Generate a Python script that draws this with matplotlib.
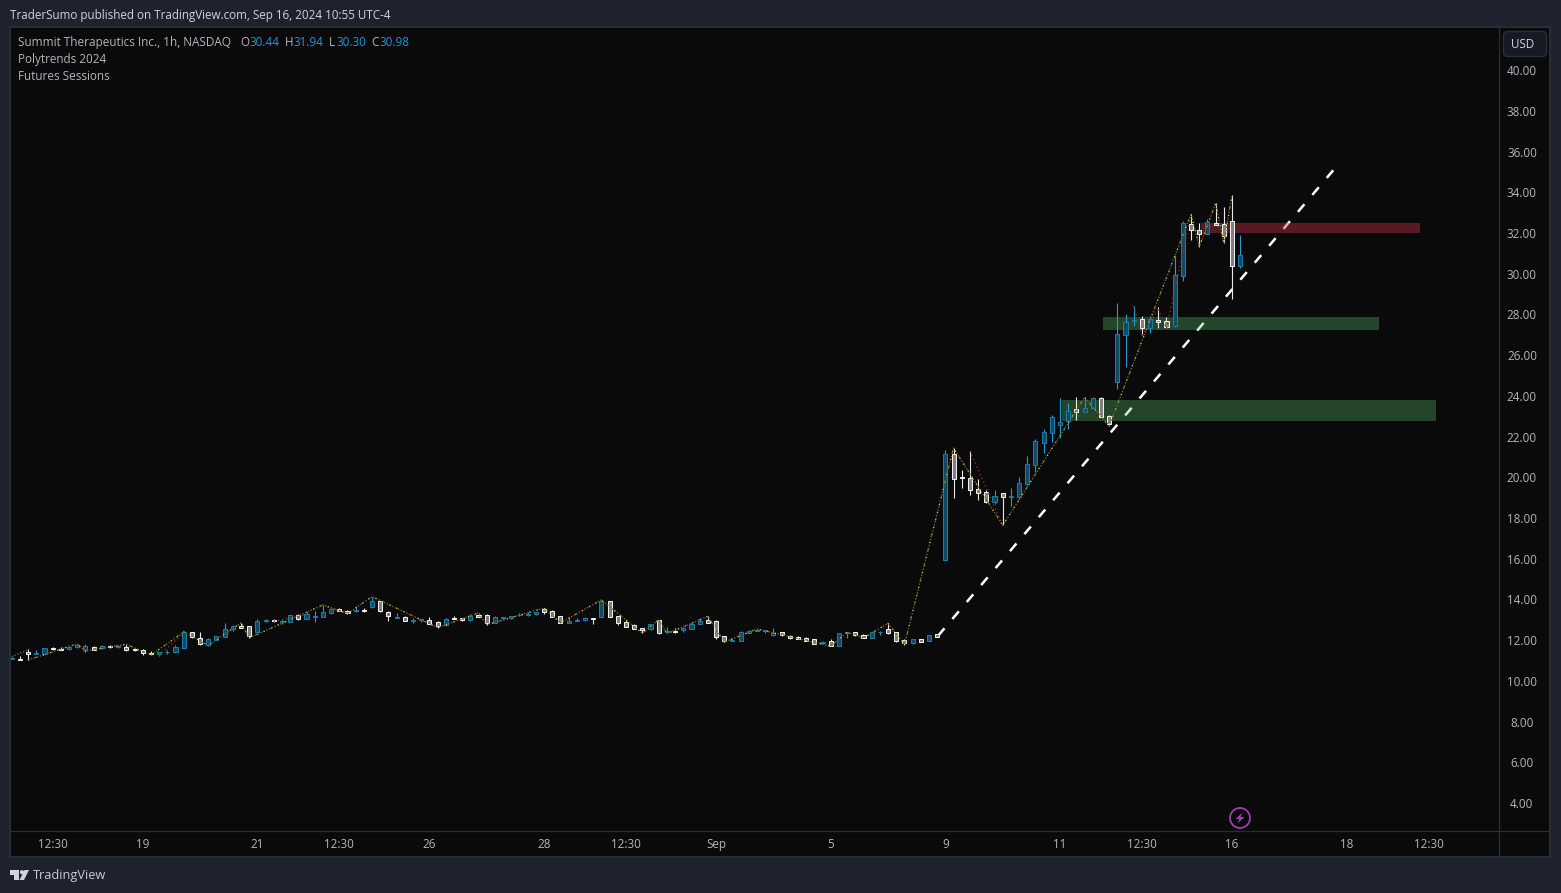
import numpy as np
from matplotlib import pyplot as plt
from matplotlib.patches import Rectangle, FancyBboxPatch, Polygon, Circle
from matplotlib.transforms import ScaledTranslation

plt.rcParams['font.family'] = ['Open Sans', 'DejaVu Sans']

opens = [11.10,11.14,11.46,11.38,11.38,11.68,11.63,11.59,11.69,11.56,11.69,11.64,11.76,11.69,11.69,11.61,11.54,11.41,11.38,11.45,
         11.45,11.68,12.43,12.13,11.82,12.07,12.22,12.59,12.74,12.72,12.46,12.99,13.05,12.95,12.95,13.26,13.10,13.18,13.20,13.39,
         13.57,13.49,13.46,13.53,13.66,13.95,13.41,13.15,13.17,12.99,13.03,13.02,12.92,12.77,13.13,13.12,13.02,13.28,13.30,12.90,
         13.13,13.15,13.26,13.26,13.31,13.56,13.46,13.21,12.90,13.00,13.02,13.13,13.20,13.95,13.21,12.94,12.77,12.62,12.58,13.02,
         12.44,12.48,12.53,12.61,12.85,13.02,12.97,12.23,12.02,12.02,12.41,12.51,12.48,12.31,12.43,12.25,12.20,12.13,12.08,11.89,
         11.99,11.77,12.38,12.43,12.28,12.17,12.43,12.58,12.43,12.04,11.90,12.10,12.02,12.33,15.98,21.19,20.06,19.99,19.45,19.30,
         18.84,19.25,19.07,19.09,19.73,20.66,21.74,22.23,22.63,22.82,23.38,23.26,23.46,23.92,23.03,24.73,27.04,27.70,27.80,27.39,
         27.75,27.70,27.49,29.94,32.46,32.17,32.00,32.53,32.46,32.61,30.44]
highs = [11.23,11.27,11.61,11.56,11.66,11.71,11.71,11.76,11.86,11.86,11.74,11.79,11.81,11.79,11.84,11.66,11.63,11.50,11.45,11.56,
         11.79,12.45,12.45,12.45,12.13,12.25,12.89,12.79,12.89,12.76,13.08,13.08,13.10,13.08,13.28,13.33,13.43,13.48,13.77,13.66,
         13.62,13.53,13.66,13.62,14.18,13.98,13.46,13.38,13.23,13.13,13.08,13.18,12.99,13.12,13.23,13.13,13.33,13.38,13.33,13.23,
         13.17,13.21,13.36,13.41,13.44,13.62,13.51,13.23,13.18,13.13,13.17,13.13,14.02,13.97,13.23,13.03,12.84,12.64,12.84,13.05,
         12.71,12.64,12.71,12.90,13.12,13.21,13.02,12.25,12.17,12.49,12.54,12.59,12.56,12.62,12.46,12.31,12.25,12.18,12.10,12.02,
         12.10,12.40,12.43,12.45,12.33,12.45,12.49,12.87,12.45,12.08,12.08,12.12,12.30,12.36,21.38,21.48,20.40,21.33,19.96,19.40,
         19.40,19.25,19.52,20.06,21.09,21.91,22.40,23.10,23.94,23.69,23.97,23.97,23.97,23.97,23.08,28.58,28.04,28.45,27.96,27.96,
         28.40,27.91,30.91,32.63,32.97,32.53,32.71,33.49,33.30,33.90,31.94]
lows = [11.10,11.09,11.07,11.36,11.36,11.56,11.56,11.56,11.66,11.48,11.56,11.61,11.64,11.66,11.51,11.51,11.30,11.32,11.28,11.36,
        11.43,11.66,12.15,11.82,11.76,12.05,12.20,12.51,12.64,12.15,12.45,12.94,12.94,12.82,12.94,13.05,13.08,12.95,13.18,13.35,
        13.46,13.35,13.43,13.44,13.64,13.44,13.00,13.13,12.99,12.90,12.94,12.84,12.66,12.76,13.08,12.99,13.00,13.18,12.80,12.89,
        13.05,13.10,13.25,13.25,13.30,13.33,13.18,12.89,12.89,12.99,13.00,12.84,13.18,13.18,12.79,12.67,12.59,12.38,12.54,12.36,
        12.43,12.41,12.44,12.59,12.84,12.89,12.10,11.95,12.00,12.00,12.38,12.49,12.40,12.25,12.27,12.12,12.10,11.99,11.86,11.87,
        11.74,11.76,12.15,12.25,12.15,12.15,12.31,12.35,11.97,11.82,11.86,11.95,12.00,12.18,15.95,19.04,19.52,19.17,18.93,18.80,
        18.73,17.68,18.63,18.96,19.65,20.30,21.23,21.77,21.97,22.41,22.86,23.25,23.45,23.00,22.57,24.37,25.47,27.47,27.01,27.14,
        27.37,27.36,27.44,29.68,31.69,31.37,31.98,32.45,31.53,28.81,30.30]
closes = [11.15,11.09,11.36,11.41,11.64,11.61,11.58,11.69,11.82,11.74,11.58,11.74,11.69,11.74,11.58,11.58,11.43,11.35,11.45,11.48,
          11.69,12.43,12.22,11.84,12.09,12.23,12.58,12.74,12.66,12.26,12.97,13.03,12.99,12.99,13.26,13.10,13.31,13.23,13.43,13.56,
          13.49,13.39,13.53,13.46,13.98,13.46,13.21,13.18,13.00,13.03,13.08,12.85,12.76,13.10,13.08,13.02,13.25,13.20,12.90,13.17,
          13.17,13.21,13.30,13.35,13.43,13.44,13.20,12.90,12.99,13.05,13.12,13.08,13.95,13.20,12.90,12.71,12.61,12.53,12.82,12.41,
          12.48,12.44,12.62,12.82,13.00,12.90,12.22,11.99,12.07,12.43,12.48,12.56,12.56,12.38,12.28,12.17,12.12,12.02,11.87,11.95,
          11.77,12.38,12.43,12.28,12.17,12.43,12.46,12.41,12.02,11.92,12.08,11.97,12.28,12.22,21.19,19.97,20.02,19.43,19.29,18.84,
          19.11,19.09,19.11,19.75,20.68,21.81,22.25,22.99,22.74,23.31,23.26,23.43,23.92,23.02,22.67,27.06,27.65,27.75,27.39,27.80,
          27.68,27.44,29.96,32.51,32.17,31.97,32.56,32.45,31.91,30.43,30.98]

# polytrend pivots, bar number then price
zig_bars = [2,8,9,14,17,21,24,28,29,38,41,44,52,57,58,65,67,72,77,79,80,85,87,91,100,102,104,107,109,115,121,131,134,144,145,147,148,149]
zig_prices = [11.07,11.86,11.50,11.84,11.30,12.45,11.78,12.89,12.15,13.77,13.35,14.18,12.66,13.38,12.80,13.62,12.89,14.02,12.38,13.05,
              12.36,13.21,11.95,12.59,11.74,12.43,12.15,12.87,11.82,21.48,17.68,23.97,22.57,32.97,31.37,33.49,31.53,33.90]
start_bars = [0,2]
start_prices = [11.23,11.56]
red_segments = [([18,21],[11.28,12.40]),([32,36],[12.97,13.30]),([39,41],[13.60,13.40]),([117,121],[21.33,17.68]),
                ([137,138],[28.45,27.01]),([138,140],[27.01,28.30]),([140,141],[28.30,27.36]),([141,144],[27.36,32.97])]

trend_bars = [113.1,161.8]
trend_prices = [12.25,35.33]

# zones: first bar, last bar, low, high
zone_green_big = (128.25,173.9,22.81,23.84)
zone_green_small = (133.25,166.96,27.28,27.91)
zone_red = (145.2,171.95,32.04,32.53)

price_ticks = np.arange(4,41,2)
time_ticks = [5,16,30,40,51,65,75,86,100,114,128,138,149,163,173]
time_labels = ['12:30','19','21','12:30','26','28','12:30','Sep','5','9','11','12:30','16','18','12:30']

W, H = 1561, 893
BG = '#1e222d'
PANE = '#0a0a0a'
EDGE = '#2a2e39'
TEXT = '#b2b5be'
BLUE = '#2196d8'
FS = 8.4

fig = plt.figure(figsize=(W/100, H/100), dpi=100, facecolor=BG)

# page furniture in pixel coordinates
chrome = fig.add_axes([0,0,1,1], zorder=0)
chrome.set_xlim(0,W)
chrome.set_ylim(H,0)
chrome.axis('off')
chrome.add_patch(Rectangle((10,27),1540,830,facecolor=PANE,edgecolor=EDGE,lw=1.4))
chrome.plot([1499.5,1499.5],[28,856],color=EDGE,lw=0.9)
chrome.plot([11,1549],[830.5,830.5],color=EDGE,lw=0.9)

chrome.text(10,15.7,'TraderSumo published on TradingView.com, Sep 16, 2024 10:55 UTC-4',color='#d1d4dc',fontsize=FS,va='center')
chrome.text(18,42.7,'Summit Therapeutics Inc., 1h, NASDAQ',color=TEXT,fontsize=8.5,va='center')
chrome.text(18,59.5,'Polytrends 2024',color=TEXT,fontsize=FS,va='center')
chrome.text(18,76.5,'Futures Sessions',color=TEXT,fontsize=8.5,va='center')
for x, s, c in [(240,'O',TEXT),(249,'30.44',BLUE),(285,'H',TEXT),(293,'31.94',BLUE),
                (329,'L',TEXT),(336,'30.30',BLUE),(371,'C',TEXT),(379,'30.98',BLUE)]:
    chrome.text(x,42.7,s,color=c,fontsize=FS,va='center')

chrome.add_patch(FancyBboxPatch((1503.5,31.5),43,25,boxstyle='round,pad=0,rounding_size=4',facecolor='#161a25',edgecolor=EDGE,lw=1))
chrome.text(1522.5,44.4,'USD',color='#d1d4dc',fontsize=FS,va='center',ha='center')

chrome.add_patch(Circle((1240,818),10,facecolor='none',edgecolor='#9c3fb0',lw=1.3))
chrome.add_patch(Polygon([(1242.5,812.5),(1235.5,819),(1239.5,819),(1237.5,823.5),(1244.5,817),(1240.5,817)],facecolor='#9c3fb0',edgecolor='none'))

chrome.add_patch(Polygon([(10,870),(19,870),(19,880),(14.5,880),(14.5,874.5),(10,874.5)],facecolor='#d1d4dc',edgecolor='none'))
chrome.add_patch(Circle((22,872.2),2.1,facecolor='#d1d4dc',edgecolor='none'))
chrome.add_patch(Polygon([(24.5,870),(29,870),(24,880),(19.5,880)],facecolor='#d1d4dc',edgecolor='none'))
chrome.text(33,875.5,'TradingView',color='#c8cbd3',fontsize=9.2,va='center')

# the chart itself
ax = fig.add_axes([11/W, 1-830/H, (1499-11)/W, (830-28)/H], zorder=1)
ax.patch.set_alpha(0)
ax.set_xlim((11-11.7)/8.19,(1499-11.7)/8.19)
ax.set_ylim(12.05-190/20.36,12.05+612/20.36)
for s in ax.spines.values():
    s.set_visible(False)

bars = np.arange(len(opens))
o, h, l, c = map(np.array,(opens,highs,lows,closes))
up = c >= o

# dashes sit under the zones, candles on top of them
ax.plot(trend_bars,trend_prices,color='white',lw=1.8,linestyle=(0,(4,4.9)),dash_capstyle='butt',zorder=1)

for x0, x1, y0, y1 in (zone_green_big,zone_green_small):
    ax.add_patch(Rectangle((x0,y0),x1-x0,y1-y0,facecolor='#61ce75',edgecolor='none',alpha=0.3,zorder=1.5))
x0, x1, y0, y1 = zone_red
ax.add_patch(Rectangle((x0,y0),x1-x0,y1-y0,facecolor='#d2324b',edgecolor='none',alpha=0.4,zorder=1.5))

ax.vlines(bars[up],l[up],h[up],color='#1f9bd8',lw=0.8,zorder=2)
ax.vlines(bars[~up],l[~up],h[~up],color='#e8e8e8',lw=0.8,zorder=2)
ax.bar(bars[up],(c-o)[up],bottom=o[up],width=0.5,facecolor='#0f4a68',edgecolor='#1b7ca8',lw=0.72,zorder=3)
ax.bar(bars[~up],(o-c)[~up],bottom=c[~up],width=0.5,facecolor='#808080',edgecolor='#f2f2f2',lw=0.72,zorder=3)

ax.plot(zig_bars,zig_prices,color='#6b6528',lw=1,linestyle=(0,(1,1.2)),zorder=4)
ax.plot(zig_bars,zig_prices,color='#e6dc3c',lw=0.8,linestyle=(0,(1,6)),zorder=4)
ax.plot(start_bars,start_prices,color='#6b6528',lw=1,linestyle=(0,(1,1.2)),zorder=4)
for seg_x, seg_y in red_segments:
    ax.plot(seg_x,seg_y,color='#8a2c2c',lw=1,linestyle=(0,(1,2)),zorder=4)

ax.yaxis.tick_right()
ax.set_yticks(price_ticks)
ax.set_yticklabels(['%0.2f' % p for p in price_ticks])
ax.tick_params(axis='y',length=0,pad=16.5,labelsize=FS,labelcolor=TEXT)
nudge = ScaledTranslation(0,0.8/100,fig.dpi_scale_trans)
for label in ax.get_yticklabels():
    label.set_ha('center')
    label.set_va('center_baseline')
    label.set_transform(label.get_transform()+nudge)
ax.set_xticks(time_ticks)
ax.set_xticklabels(time_labels)
ax.tick_params(axis='x',length=0,pad=5.6,labelsize=FS,labelcolor=TEXT)

plt.savefig('out.png',dpi=100,facecolor=BG)
